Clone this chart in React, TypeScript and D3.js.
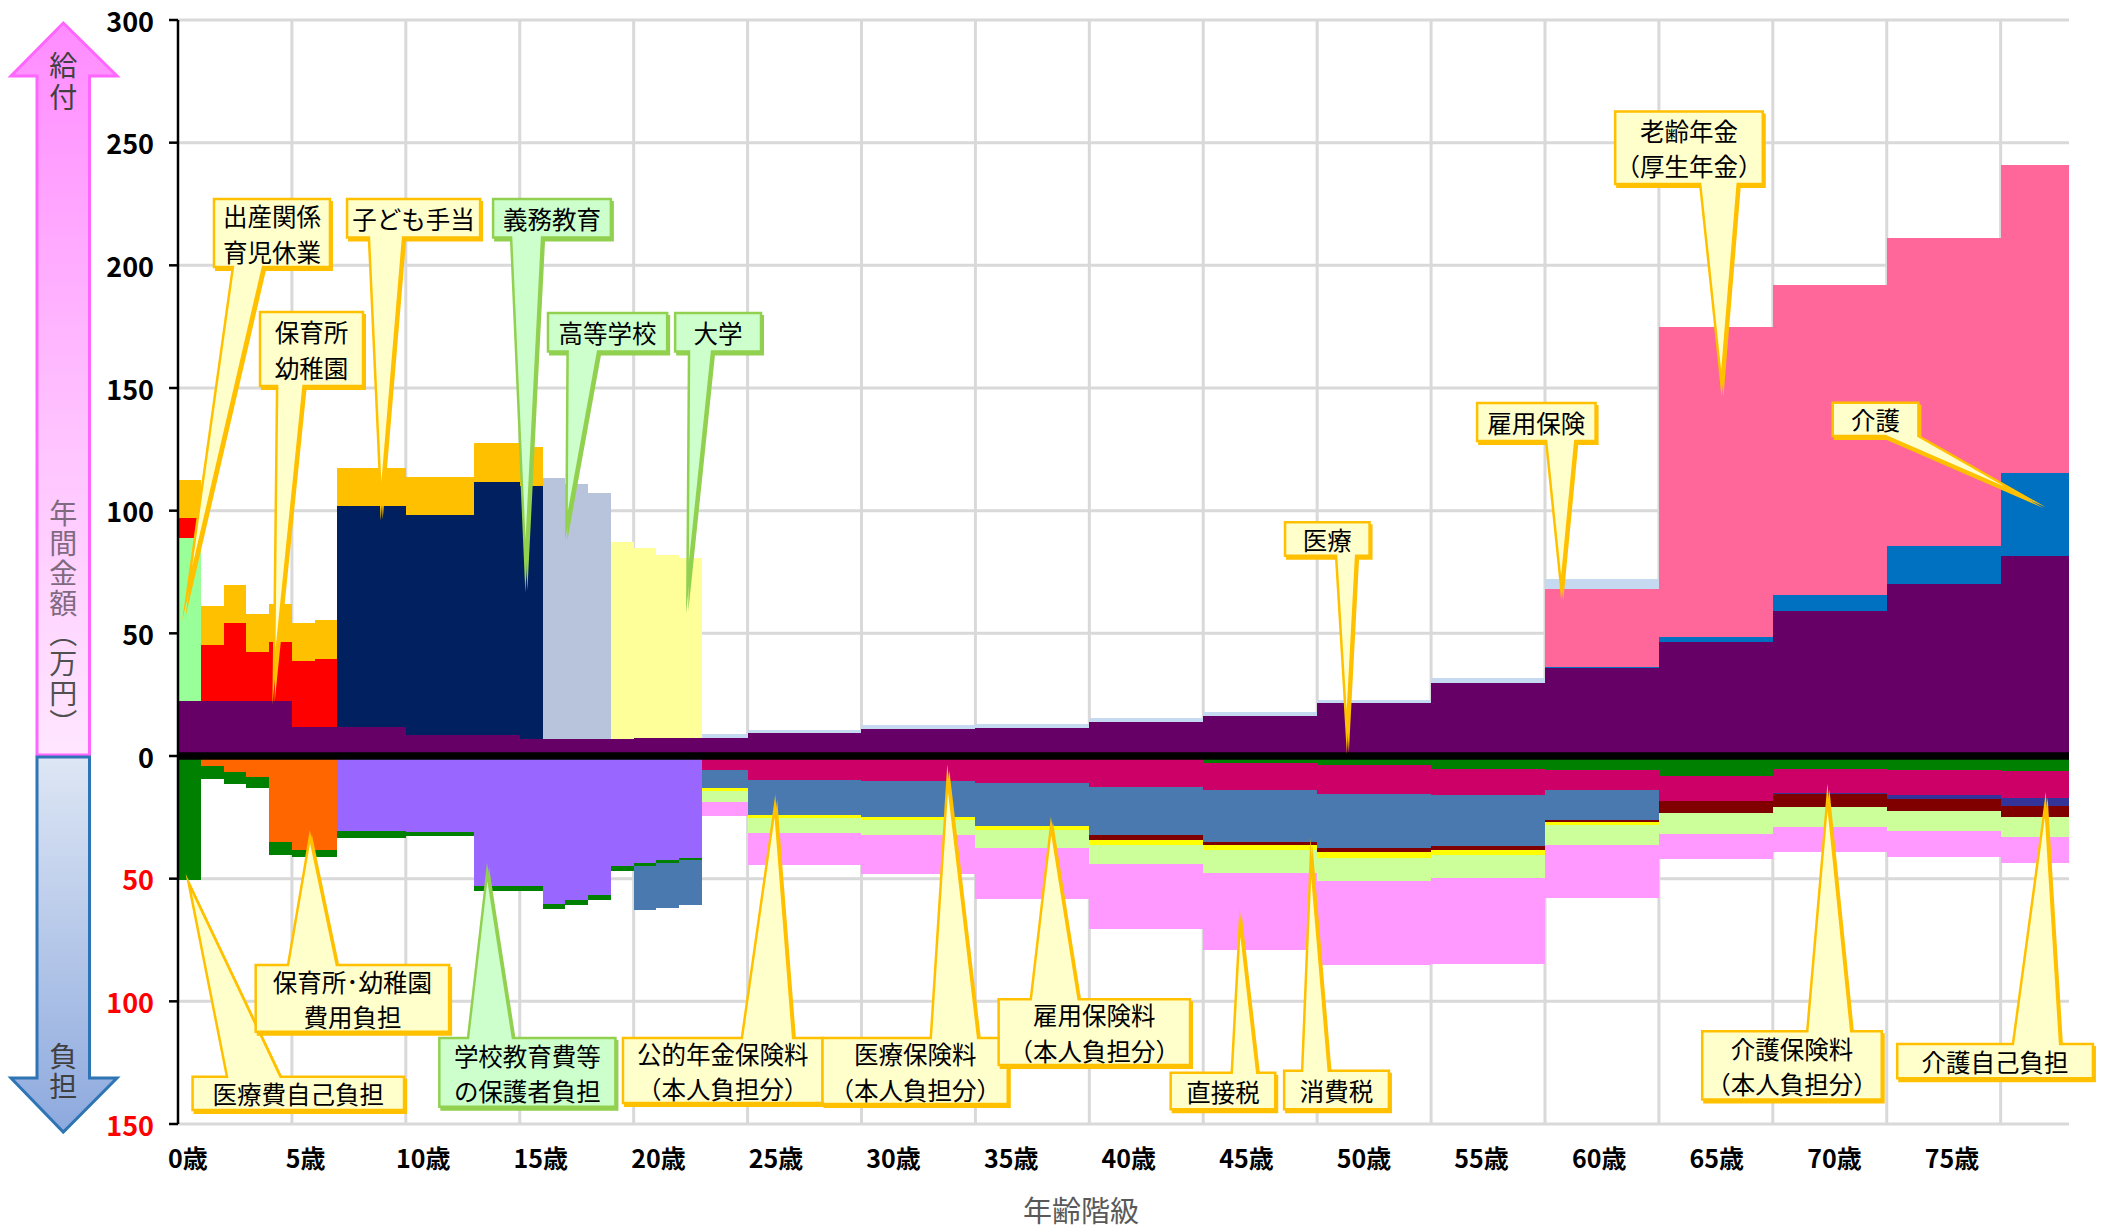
import React from 'react';
import * as d3 from 'd3';

const WIDTH = 2105;
const HEIGHT = 1232;

// Age bins (years)
const binStart = [0, 1, 2, 3, 4, 5, 6, 7, 10, 13, 15, 16, 17, 18, 19, 20, 21, 22, 23, 25, 30, 35, 40, 45, 50, 55, 60, 65, 70, 75, 80];
const binEnd = [1, 2, 3, 4, 5, 6, 7, 10, 13, 15, 16, 17, 18, 19, 20, 21, 22, 23, 25, 30, 35, 40, 45, 50, 55, 60, 65, 70, 75, 80, 83];

// ---- 給付 (benefits, 万円) ----
const iryo = [22.4, 22.4, 22.4, 22.4, 22.4, 11.8, 11.8, 11.8, 8.7, 8.7, 6.8, 6.8, 6.8, 6.8, 7.1, 7.4, 7.4, 7.4, 7.2, 9.5, 11.2, 11.5, 13.8, 16.5, 21.5, 29.6, 35.7, 46.3, 59.1, 70.3, 81.4];
const kaigo = [0, 0, 0, 0, 0, 0, 0, 0, 0, 0, 0, 0, 0, 0, 0, 0, 0, 0, 0, 0, 0, 0, 0, 0, 0, 0, 0.5, 2.3, 6.7, 15.4, 33.9];
const shussan = [66.6, 0, 0, 0, 0, 0, 0, 0, 0, 0, 0, 0, 0, 0, 0, 0, 0, 0, 0, 0, 0, 0, 0, 0, 0, 0, 0, 0, 0, 0, 0];
const hoikusho = [7.9, 23, 31.9, 19.8, 24.1, 26.8, 27.9, 0, 0, 0, 0, 0, 0, 0, 0, 0, 0, 0, 0, 0, 0, 0, 0, 0, 0, 0, 0, 0, 0, 0, 0];
const gimu = [0, 0, 0, 0, 0, 0, 0, 90.1, 89.4, 103.1, 103.4, 0, 0, 0, 0, 0, 0, 0, 0, 0, 0, 0, 0, 0, 0, 0, 0, 0, 0, 0, 0];
const koko = [0, 0, 0, 0, 0, 0, 0, 0, 0, 0, 0, 106.6, 104.2, 100.3, 0, 0, 0, 0, 0, 0, 0, 0, 0, 0, 0, 0, 0, 0, 0, 0, 0];
const daigaku = [0, 0, 0, 0, 0, 0, 0, 0, 0, 0, 0, 0, 0, 0, 80, 77.5, 74.6, 73.2, 0, 0, 0, 0, 0, 0, 0, 0, 0, 0, 0, 0, 0];
const roreiNenkin = [0, 0, 0, 0, 0, 0, 0, 0, 0, 0, 0, 0, 0, 0, 0, 0, 0, 0, 0, 0, 0, 0, 0, 0, 0, 0, 31.7, 126.1, 126.2, 125.6, 125.6];
const koyo = [0, 0, 0, 0, 0, 0, 0, 0, 0, 0, 0, 0, 0, 0, 0, 0, 0, 0, 1.6, 1.0, 1.4, 1.6, 1.7, 1.3, 1.5, 2.2, 4.2, 0, 0, 0, 0];
const kodomo = [15.6, 15.6, 15.6, 15.6, 15.6, 15.6, 15.6, 15.6, 15.6, 15.6, 15.6, 0, 0, 0, 0, 0, 0, 0, 0, 0, 0, 0, 0, 0, 0, 0, 0, 0, 0, 0, 0];

// ---- 負担 (burdens, 万円) ----
const hoikuFutan = [0, 4.2, 6.5, 8.5, 35.2, 38.2, 38.2, 0, 0, 0, 0, 0, 0, 0, 0, 0, 0, 0, 0, 0, 0, 0, 0, 0, 0, 0, 0, 0, 0, 0, 0];
const gakko = [0, 0, 0, 0, 0, 0, 0, 30.5, 30.8, 52.8, 53.1, 60.2, 58.5, 56.5, 45, 43.6, 42.5, 41.6, 0, 0, 0, 0, 0, 0, 0, 0, 0, 0, 0, 0, 0];
const iryohi = [50.4, 5.2, 5.0, 4.6, 5.0, 3.0, 3.0, 3.0, 1.7, 2.3, 2.0, 2.0, 2.1, 2.0, 2.0, 1.1, 1.1, 0.9, 0.3, 0.3, 0.3, 0.4, 0.5, 2.7, 3.8, 5.1, 5.9, 8.0, 5.1, 5.6, 6.2];
const iryoHoken = [0, 0, 0, 0, 0, 0, 0, 0, 0, 0, 0, 0, 0, 0, 0, 0, 0, 0, 5.5, 9.4, 9.8, 10.8, 12.1, 11.1, 11.5, 11.0, 8.1, 10.4, 9.9, 10.5, 10.9];
const nenkinHoken = [0, 0, 0, 0, 0, 0, 0, 0, 0, 0, 0, 0, 0, 0, 0, 17.9, 18.3, 18.1, 7.3, 14.2, 14.6, 17.2, 19.8, 21.3, 22.3, 20.7, 12.2, 0, 0, 0, 0];
const kaigoJiko = [0, 0, 0, 0, 0, 0, 0, 0, 0, 0, 0, 0, 0, 0, 0, 0, 0, 0, 0, 0, 0, 0, 0, 0, 0, 0, 0, 0, 0.6, 1.5, 3.2];
const kaigoHoken = [0, 0, 0, 0, 0, 0, 0, 0, 0, 0, 0, 0, 0, 0, 0, 0, 0, 0, 0, 0, 0, 0, 1.8, 1.0, 1.6, 1.6, 0.8, 5.0, 5.1, 4.7, 4.6];
const koyoHoken = [0, 0, 0, 0, 0, 0, 0, 0, 0, 0, 0, 0, 0, 0, 0, 0, 0, 0, 1.1, 1.4, 1.4, 1.7, 1.9, 2.4, 2.4, 2.1, 1.1, 0, 0, 0, 0];
const shohizei = [0, 0, 0, 0, 0, 0, 0, 0, 0, 0, 0, 0, 0, 0, 0, 0, 0, 0, 4.7, 6.2, 6.3, 7.5, 8.1, 9.1, 9.5, 9.4, 8.2, 8.2, 8.3, 8.3, 8.3];
const chokusetsu = [0, 0, 0, 0, 0, 0, 0, 0, 0, 0, 0, 0, 0, 0, 0, 0, 0, 0, 5.7, 13.1, 15.6, 20.8, 26.5, 31.4, 34.0, 34.8, 21.4, 10.2, 10.0, 10.4, 10.5];

const yTicks = [300, 250, 200, 150, 100, 50, 0, -50, -100, -150];
const xTickLabels = ['0歳', '5歳', '10歳', '15歳', '20歳', '25歳', '30歳', '35歳', '40歳', '45歳', '50歳', '55歳', '60歳', '65歳', '70歳', '75歳'];
const xGridAges = [5, 10, 15, 20, 25, 30, 35, 40, 45, 50, 55, 60, 65, 70, 75, 80];

const posSeries = [
  { key: 'iryo', values: iryo, color: '#660066' },
  { key: 'kaigo', values: kaigo, color: '#0070C0' },
  { key: 'shussan', values: shussan, color: '#99FF99' },
  { key: 'hoikusho', values: hoikusho, color: '#FF0000' },
  { key: 'gimu', values: gimu, color: '#002060' },
  { key: 'koko', values: koko, color: '#B8C4DC' },
  { key: 'daigaku', values: daigaku, color: '#FFFF99' },
  { key: 'roreiNenkin', values: roreiNenkin, color: '#FF6699' },
  { key: 'koyo', values: koyo, color: '#C5D9F1' },
  { key: 'kodomo', values: kodomo, color: '#FFC000' },
];
const negSeries = [
  { key: 'hoikuFutan', values: hoikuFutan, color: '#FF6600' },
  { key: 'gakko', values: gakko, color: '#9966FF' },
  { key: 'iryohi', values: iryohi, color: '#008000' },
  { key: 'iryoHoken', values: iryoHoken, color: '#CC0066' },
  { key: 'nenkinHoken', values: nenkinHoken, color: '#4A79AF' },
  { key: 'kaigoJiko', values: kaigoJiko, color: '#333399' },
  { key: 'kaigoHoken', values: kaigoHoken, color: '#800000' },
  { key: 'koyoHoken', values: koyoHoken, color: '#FFFF00' },
  { key: 'shohizei', values: shohizei, color: '#CCFF99' },
  { key: 'chokusetsu', values: chokusetsu, color: '#FF99FF' },
];

// Callout annotations in data units: box [ageLeft, ageRight, valueTop, valueBottom], tail base ages, tip [age, value]
const callouts = [
  { lines: ['出産関係', '育児休業'], box: [1.58, 6.67, 227.0, 199.3], base: [2.41, 3.73], tip: [0.4, 66.0], green: false },
  { lines: ['保育所', '幼稚園'], box: [3.6, 8.12, 181.0, 150.8], base: [4.35, 5.51], tip: [4.21, 32.2], green: false },
  { lines: ['子ども手当'], box: [7.42, 13.26, 227.0, 211.3], base: [8.38, 9.88], tip: [8.91, 103.9], green: false },
  { lines: ['義務教育'], box: [13.83, 19.0, 227.0, 211.3], base: [14.62, 15.98], tip: [15.25, 77.4], green: true },
  { lines: ['高等学校'], box: [16.24, 21.47, 180.6, 164.9], base: [17.1, 18.44], tip: [17.05, 93.8], green: true },
  { lines: ['大学'], box: [21.82, 25.59, 180.6, 164.9], base: [22.43, 23.44], tip: [22.36, 68.5], green: true },
  { lines: ['雇用保険'], box: [57.02, 62.22, 143.9, 128.4], base: [60.05, 61.33], tip: [60.71, 68.5], green: false },
  { lines: ['老齢年金', '（厚生年金）'], box: [63.08, 69.56, 262.7, 233.2], base: [66.81, 68.46], tip: [67.74, 152.0], green: false },
  { lines: ['介護'], box: [72.63, 76.39, 144.0, 130.4], base: [74.93, 76.39], tip: [81.08, 105.6], green: false },
  { lines: ['医療'], box: [48.59, 52.3, 95.3, 81.6], base: [50.83, 51.71], tip: [51.3, 9.8], green: false },
  { lines: ['医療費自己負担'], box: [0.64, 9.92, -130.7, -144.3], base: [2.15, 4.5], tip: [0.47, -51.9], green: false },
  { lines: ['保育所･幼稚園', '費用負担'], box: [3.41, 11.9, -85.2, -112.4], base: [4.83, 6.97], tip: [5.79, -32.9], green: false },
  { lines: ['学校教育費等', 'の保護者負担'], box: [11.47, 19.2, -114.9, -143.0], base: [12.73, 14.7], tip: [13.57, -47.2], green: true },
  { lines: ['公的年金保険料', '（本人負担分）'], box: [19.53, 28.29, -114.9, -141.4], base: [24.75, 27.0], tip: [26.2, -20.4], green: false },
  { lines: ['医療保険料', '（本人負担分）'], box: [28.29, 36.42, -114.9, -141.8], base: [33.04, 35.12], tip: [33.78, -9.1], green: false },
  { lines: ['雇用保険料', '（本人負担分）'], box: [36.02, 44.42, -99.2, -126.0], base: [37.43, 39.53], tip: [38.32, -28.5], green: false },
  { lines: ['直接税'], box: [43.57, 48.16, -129.1, -144.0], base: [46.25, 47.37], tip: [46.61, -67.5], green: false },
  { lines: ['消費税'], box: [48.55, 53.15, -128.3, -144.0], base: [49.34, 50.51], tip: [49.72, -41.7], green: false },
  { lines: ['介護保険料', '（本人負担分）'], box: [66.9, 74.78, -112.2, -140.0], base: [71.51, 73.44], tip: [72.4, -16.8], green: false },
  { lines: ['介護自己負担'], box: [75.46, 84.05, -117.4, -131.4], base: [80.54, 82.61], tip: [81.96, -19.9], green: false },
];

const FONT = '"Noto Sans CJK JP", "Noto Sans", sans-serif';

export default function App() {
  const plotLeft = 178;
  const plotRight = 2069;
  const plotTop = 20;
  const plotBottom = 1124;

  const x = d3.scaleLinear().domain([0, 83]).range([plotLeft, plotRight]);
  const y = d3.scaleLinear().domain([-150, 300]).range([plotBottom, plotTop]);
  const labelX = d3.scaleLinear().domain([0, xTickLabels.length - 1]).range([188, 1952]);

  const allSeries = [...posSeries, ...negSeries];
  const rows = binStart.map((s, i) => {
    const r: any = { i };
    posSeries.forEach((p) => (r[p.key] = p.values[i]));
    negSeries.forEach((n) => (r[n.key] = -n.values[i]));
    return r;
  });
  const stacked = d3
    .stack<any>()
    .keys(allSeries.map((s) => s.key))
    .offset(d3.stackOffsetDiverging)(rows);

  const colorOf: Record<string, string> = {};
  allSeries.forEach((s) => (colorOf[s.key] = s.color));

  // Left arrow geometry
  const ax0 = 37, ax1 = 89.5, axc = 63.3, ah0 = 11, ah1 = 117;
  const pinkPts = [[axc, 23], [ah1, 76], [ax1, 76], [ax1, 755], [ax0, 755], [ax0, 76], [ah0, 76]];
  const bluePts = [[ax0, 757], [ax1, 757], [ax1, 1078], [ah1, 1078], [axc, 1132], [ah0, 1078], [ax0, 1078]];
  const ptsStr = (p: number[][]) => p.map((q) => q.join(',')).join(' ');

  const vStyle: any = { writingMode: 'vertical-rl', textOrientation: 'mixed' };

  const calloutPath = (c: any) => {
    const bx0 = x(c.box[0]), bx1 = x(c.box[1]);
    const by0 = y(c.box[2]), by1 = y(c.box[3]);
    const xb0 = x(c.base[0]), xb1 = x(c.base[1]);
    const tx = x(c.tip[0]), ty = y(c.tip[1]);
    if (c.tip[1] < c.box[3]) {
      return `M${bx0},${by0} H${bx1} V${by1} H${xb1} L${tx},${ty} L${xb0},${by1} H${bx0} Z`;
    }
    return `M${bx0},${by0} H${xb0} L${tx},${ty} L${xb1},${by0} H${bx1} V${by1} H${bx0} Z`;
  };

  const calloutFont = 24.5;
  const calloutLH = 35.6;

  return (
    <svg
      width={WIDTH}
      height={HEIGHT}
      viewBox={`0 0 ${WIDTH} ${HEIGHT}`}
      style={{ position: 'absolute', left: 0, top: 0, background: '#fff', fontFamily: FONT }}
    >
      <defs>
        <linearGradient id="pinkGrad" x1="0" y1="0" x2="0" y2="1">
          <stop offset="0%" stopColor="#FF8CFF" />
          <stop offset="55%" stopColor="#FFC2FF" />
          <stop offset="100%" stopColor="#FFE6FF" />
        </linearGradient>
        <linearGradient id="blueGrad" x1="0" y1="0" x2="0" y2="1">
          <stop offset="0%" stopColor="#DDE6F4" />
          <stop offset="100%" stopColor="#8DA9DE" />
        </linearGradient>
      </defs>

      {/* gridlines */}
      <g stroke="#D9D9D9" strokeWidth={3}>
        {yTicks.map((t) => (
          <line key={'h' + t} x1={plotLeft} x2={plotRight} y1={y(t)} y2={y(t)} />
        ))}
        {xGridAges.map((a) => (
          <line key={'v' + a} x1={x(a)} x2={x(a)} y1={plotTop} y2={plotBottom} />
        ))}
      </g>

      {/* stacked bars */}
      <g shapeRendering="crispEdges">
        {stacked.map((layer) =>
          layer.map((d, i) => {
            if (d[1] === d[0]) return null;
            const top = y(Math.max(d[0], d[1]));
            const bot = y(Math.min(d[0], d[1]));
            return (
              <rect
                key={layer.key + '-' + i}
                x={x(binStart[i])}
                width={x(binEnd[i]) - x(binStart[i])}
                y={top}
                height={bot - top}
                fill={colorOf[layer.key]}
              />
            );
          })
        )}
      </g>

      {/* zero line */}
      <line x1={plotLeft} x2={plotRight} y1={y(0)} y2={y(0)} stroke="#000" strokeWidth={7.5} />

      {/* y axis */}
      <line x1={plotLeft} x2={plotLeft} y1={plotTop} y2={plotBottom} stroke="#000" strokeWidth={2.5} />
      {yTicks.map((t) => (
        <g key={'yt' + t}>
          <line x1={plotLeft - 9} x2={plotLeft} y1={y(t)} y2={y(t)} stroke="#000" strokeWidth={2.5} />
          <text
            x={154}
            y={y(t)}
            textAnchor="end"
            dominantBaseline="central"
            fontSize={27}
            fontWeight={700}
            fill={t < 0 ? '#FF0000' : '#000'}
          >
            {Math.abs(t)}
          </text>
        </g>
      ))}

      {/* x labels */}
      {xTickLabels.map((l, i) => (
        <text key={l} x={labelX(i)} y={1157} textAnchor="middle" dominantBaseline="central" fontSize={25} fontWeight={700} fill="#000">
          {l}
        </text>
      ))}
      <text x={1081} y={1209} textAnchor="middle" dominantBaseline="central" fontSize={29} fill="#595959">
        年齢階級
      </text>

      {/* left arrows */}
      <polygon points={ptsStr(pinkPts)} fill="url(#pinkGrad)" stroke="#FF66FF" strokeWidth={3} />
      <polygon points={ptsStr(bluePts)} fill="url(#blueGrad)" stroke="#2E75B6" strokeWidth={3} />
      <text x={axc} y={51} style={vStyle} fontSize={28} letterSpacing={4} fill="#404040">
        給付
      </text>
      <text x={axc} y={499} style={vStyle} fontSize={28} letterSpacing={2} fill="#806A80">
        年間金額<tspan fill="#505050">（万円）</tspan>
      </text>
      <text x={axc} y={1042} style={vStyle} fontSize={28} letterSpacing={2} fill="#404040">
        負担
      </text>

      {/* callouts */}
      {callouts.map((c, k) => {
        const fill = c.green ? '#CCFFCC' : '#FFFFCC';
        const stroke = c.green ? '#92D050' : '#FFC000';
        const cx = (x(c.box[0]) + x(c.box[1])) / 2;
        const cy = (y(c.box[2]) + y(c.box[3])) / 2;
        const n = c.lines.length;
        const d = calloutPath(c);
        return (
          <g key={'c' + k}>
            <path d={d} transform="translate(2,3)" fill={stroke} stroke={stroke} strokeWidth={2} strokeMiterlimit={30} />
            <path d={d} fill={fill} stroke={stroke} strokeWidth={2.5} strokeLinejoin="miter" strokeMiterlimit={30} />
            <text
              x={cx}
              y={cy - ((n - 1) / 2) * calloutLH}
              textAnchor="middle"
              dominantBaseline="central"
              fontSize={calloutFont}
              fill="#000"
            >
              {c.lines.map((ln, j) => (
                <tspan key={j} x={cx} dy={j === 0 ? 0 : calloutLH}>
                  {ln}
                </tspan>
              ))}
            </text>
          </g>
        );
      })}
    </svg>
  );
}
